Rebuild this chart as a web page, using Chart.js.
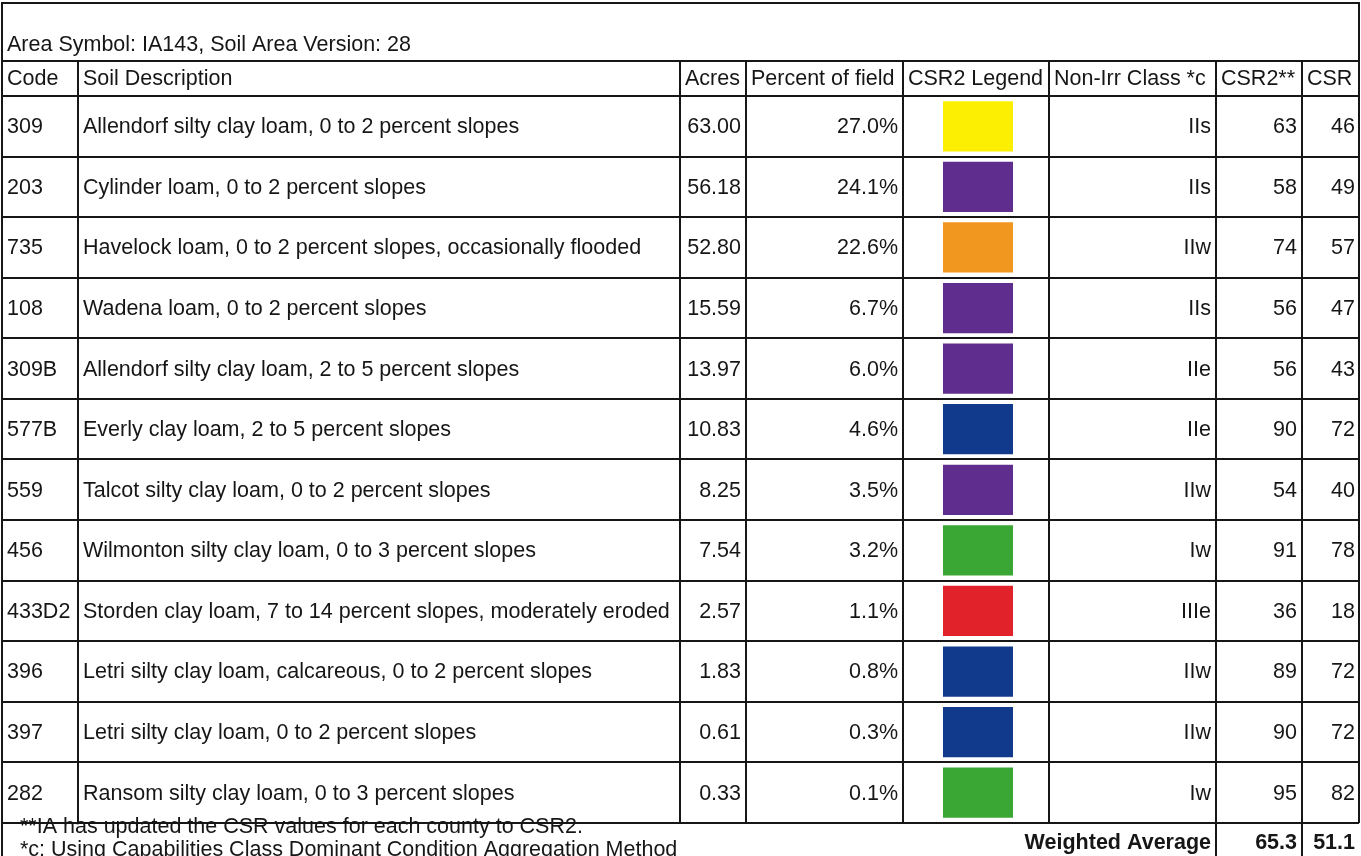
<!DOCTYPE html>
<html>
<head>
<meta charset="utf-8">
<script src="https://cdn.jsdelivr.net/npm/chart.js@4"></script>
<style>
    body { margin: 0; background: #fff; }
    canvas { display: block; }
</style>
</head>
<body>
<canvas id="soilChart" width="1361" height="856"></canvas>
<script>
// table data
const areaTitle = 'Area Symbol: IA143, Soil Area Version: 28';
const headers = ['Code', 'Soil Description', 'Acres', 'Percent of field', 'CSR2 Legend', 'Non-Irr Class *c', 'CSR2**', 'CSR'];
const codes = ['309', '203', '735', '108', '309B', '577B', '559', '456', '433D2', '396', '397', '282'];
const descriptions = [
    'Allendorf silty clay loam, 0 to 2 percent slopes',
    'Cylinder loam, 0 to 2 percent slopes',
    'Havelock loam, 0 to 2 percent slopes, occasionally flooded',
    'Wadena loam, 0 to 2 percent slopes',
    'Allendorf silty clay loam, 2 to 5 percent slopes',
    'Everly clay loam, 2 to 5 percent slopes',
    'Talcot silty clay loam, 0 to 2 percent slopes',
    'Wilmonton silty clay loam, 0 to 3 percent slopes',
    'Storden clay loam, 7 to 14 percent slopes, moderately eroded',
    'Letri silty clay loam, calcareous, 0 to 2 percent slopes',
    'Letri silty clay loam, 0 to 2 percent slopes',
    'Ransom silty clay loam, 0 to 3 percent slopes'
];
const acres = [63.00, 56.18, 52.80, 15.59, 13.97, 10.83, 8.25, 7.54, 2.57, 1.83, 0.61, 0.33];
const percentOfField = [27.0, 24.1, 22.6, 6.7, 6.0, 4.6, 3.5, 3.2, 1.1, 0.8, 0.3, 0.1];
const legendColors = ['#fdef02', '#5f2d8e', '#f1961e', '#5f2d8e', '#5f2d8e', '#123a8c', '#5f2d8e', '#3aa735', '#e2222b', '#123a8c', '#123a8c', '#3aa735'];
const nonIrrClass = ['IIs', 'IIs', 'IIw', 'IIs', 'IIe', 'IIe', 'IIw', 'Iw', 'IIIe', 'IIw', 'IIw', 'Iw'];
const csr2 = [63, 58, 74, 56, 56, 90, 54, 91, 36, 89, 90, 95];
const csr = [46, 49, 57, 47, 43, 72, 40, 78, 18, 72, 72, 82];
const weightedCsr2 = 65.3;
const weightedCsr = 51.1;
const footnotes = [
    '**IA has updated the CSR values for each county to CSR2.',
    '*c: Using Capabilities Class Dominant Condition Aggregation Method'
];

// layout
const W = 1361;
const colX = [2, 78, 680, 746, 903, 1049, 1216, 1302, 1359];
const swatchLeft = 943;
const swatchWidth = 70;
const topY = 3;
const headerTop = 61;
const rowsTop = 96;
const rowsBottom = 823;
const H = 856;
const font = '"Liberation Sans", Arial, sans-serif';
const fontSize = '21.5px ';
const ink = '#161616';

const tablePlugin = {
    id: 'soilTable',
    beforeDraw(chart) {
        const ctx = chart.ctx;
        ctx.save();
        ctx.fillStyle = '#fff';
        ctx.fillRect(0, 0, W, H);
        ctx.restore();
    },
    afterDatasetsDraw(chart) {
        const ctx = chart.ctx;
        const yScale = chart.scales.y;
        const band = (yScale.getPixelForValue(1) - yScale.getPixelForValue(0));

        ctx.save();
        ctx.strokeStyle = ink;
        ctx.lineWidth = 2;

        function hLine(y, x1, x2) {
            ctx.beginPath();
            ctx.moveTo(x1, y);
            ctx.lineTo(x2, y);
            ctx.stroke();
        }
        function vLine(x, y1, y2) {
            ctx.beginPath();
            ctx.moveTo(x, y1);
            ctx.lineTo(x, y2);
            ctx.stroke();
        }

        hLine(topY, colX[0] - 1, colX[8] + 1);
        hLine(headerTop, colX[0], colX[8]);
        for (let i = 0; i <= codes.length; i++) {
            let y = Math.round(yScale.getPixelForValue(i) - band / 2);
            hLine(y, colX[0], colX[8]);
        }

        vLine(colX[0], topY, H);
        vLine(colX[8], topY, rowsBottom);
        for (let c = 1; c <= 5; c++) {
            vLine(colX[c], headerTop, rowsBottom);
        }
        vLine(colX[6], headerTop, H);
        vLine(colX[7], headerTop, H);

        ctx.fillStyle = ink;
        ctx.font = fontSize + font;
        ctx.textBaseline = 'middle';

        ctx.textAlign = 'left';
        ctx.fillText(areaTitle, 7, 45);
        for (let c = 0; c < headers.length; c++) {
            ctx.fillText(headers[c], colX[c] + 5, 79);
        }

        for (let i = 0; i < codes.length; i++) {
            let y = yScale.getPixelForValue(i) + 1;
            ctx.textAlign = 'left';
            ctx.fillText(codes[i], 7, y);
            ctx.fillText(descriptions[i], colX[1] + 5, y);
            ctx.textAlign = 'right';
            ctx.fillText(acres[i].toFixed(2), colX[3] - 5, y);
            ctx.fillText(percentOfField[i].toFixed(1) + '%', colX[4] - 5, y);
            ctx.fillText(nonIrrClass[i], colX[6] - 5, y);
            ctx.fillText(String(csr2[i]), colX[7] - 5, y);
            ctx.fillText(String(csr[i]), colX[8] - 4, y);
        }

        ctx.textAlign = 'left';
        ctx.fillText(footnotes[0], 20, 827);
        ctx.fillText(footnotes[1], 20, 850);

        ctx.font = 'bold ' + fontSize + font;
        ctx.textAlign = 'right';
        ctx.fillText('Weighted Average', colX[6] - 5, 843);
        ctx.fillText(weightedCsr2.toFixed(1), colX[7] - 5, 843);
        ctx.fillText(weightedCsr.toFixed(1), colX[8] - 4, 843);

        ctx.restore();
    }
};

function initSoilChart() {
    let canvas = document.getElementById('soilChart');
    // x axis maps one legend unit onto the swatch inside the CSR2 Legend column
    let xMin = -swatchLeft / swatchWidth;
    let xMax = xMin + W / swatchWidth;

    new Chart(canvas, {
        type: 'bar',
        data: {
            labels: codes,
            datasets: [
                {
                    label: 'CSR2 Legend',
                    data: codes.map(() => 1),
                    backgroundColor: legendColors,
                    borderWidth: 0,
                    categoryPercentage: 0.83,
                    barPercentage: 1
                }
            ]
        },
        options: {
            indexAxis: 'y',
            responsive: false,
            animation: false,
            layout: {
                padding: { top: rowsTop, bottom: H - rowsBottom, left: 0, right: 0 }
            },
            plugins: {
                legend: { display: false },
                tooltip: { enabled: false }
            },
            scales: {
                x: { type: 'linear', min: xMin, max: xMax, display: false },
                y: { type: 'category', offset: true, display: false }
            }
        },
        plugins: [tablePlugin]
    });
}

window.addEventListener('load', initSoilChart);
</script>
</body>
</html>
